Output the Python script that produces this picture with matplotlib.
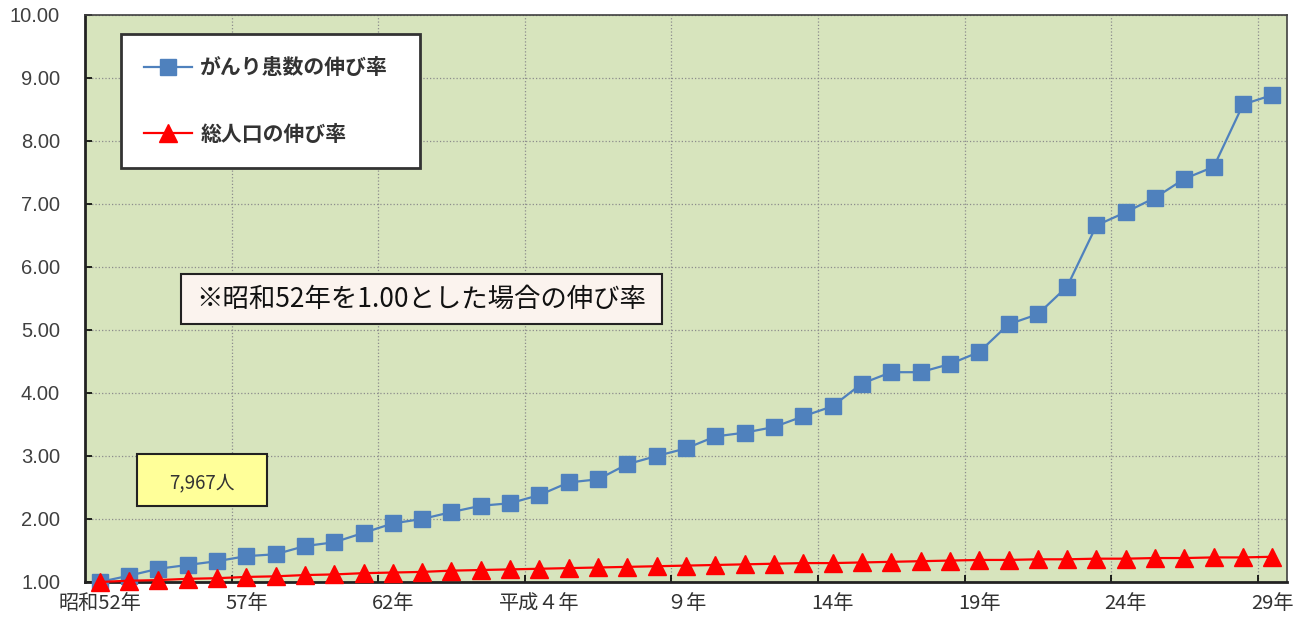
import matplotlib
matplotlib.use('Agg')
import matplotlib.pyplot as plt
from matplotlib.patches import Rectangle
from matplotlib.ticker import FixedLocator

plt.rcParams['font.family'] = ['Noto Sans CJK JP', 'DejaVu Sans']

years = list(range(41))  # 昭和52年 .. 平成29年
tick_pos = [0, 5, 10, 15, 20, 25, 30, 35, 40]
tick_labels = ['昭和52年', '57年', '62年', '平成４年', '９年', '14年', '19年', '24年', '29年']

cancer = [1.00, 1.10, 1.21, 1.27, 1.33, 1.41, 1.44, 1.57, 1.63, 1.78,
          1.93, 2.00, 2.11, 2.21, 2.25, 2.38, 2.58, 2.63, 2.87, 3.00,
          3.12, 3.31, 3.37, 3.46, 3.63, 3.79, 4.15, 4.33, 4.33, 4.46,
          4.65, 5.09, 5.25, 5.69, 6.66, 6.87, 7.10, 7.40, 7.59, 8.58,
          8.73]
population = [1.00, 1.02, 1.03, 1.05, 1.06, 1.08, 1.09, 1.11, 1.12, 1.14,
              1.15, 1.16, 1.18, 1.19, 1.20, 1.21, 1.22, 1.23, 1.24, 1.25,
              1.26, 1.27, 1.28, 1.29, 1.30, 1.30, 1.31, 1.32, 1.33, 1.34,
              1.35, 1.35, 1.36, 1.36, 1.37, 1.37, 1.38, 1.38, 1.39, 1.39,
              1.40]

fig = plt.figure(figsize=(12.96, 6.19), dpi=100)
ax = fig.add_axes([0.0656, 0.0598, 0.9275, 0.916])
ax.set_facecolor('#D7E4BD')

ax.plot(years, cancer, color='#4F81BD', lw=1.6, marker='s', ms=11.5,
        mfc='#4F81BD', mec='#4F81BD', label='がんり患数の伸び率', clip_on=False, zorder=3)
ax.plot(years, population, color='#FF0000', lw=1.6, marker='^', ms=12.5,
        mfc='#FF0000', mec='#FF0000', label='総人口の伸び率', clip_on=False, zorder=4)

ax.set_xlim(-0.5, 40.5)
ax.set_ylim(1, 10)
ax.set_yticks(range(1, 11))
ax.set_yticklabels(['%.2f' % v for v in range(1, 11)], family='Liberation Sans',
                   fontsize=14.5, color='#404040')
ax.set_xticks(tick_pos)
ax.set_xticklabels(tick_labels, fontsize=14.5, color='#333333')
ax.xaxis.set_minor_locator(FixedLocator([4.5 + 5 * k for k in range(8)]))
ax.tick_params(axis='x', which='major', length=0, pad=8)
ax.tick_params(axis='x', which='minor', direction='in', length=5, width=1.2, color='black')
ax.tick_params(axis='y', direction='in', length=5, width=1.2, pad=18)

ax.grid(True, axis='y', color='#8C8C8C', ls=':', lw=0.9)
ax.grid(True, axis='x', which='minor', color='#8C8C8C', ls=':', lw=0.9)

for s in ['left', 'bottom']:
    ax.spines[s].set_linewidth(2)
    ax.spines[s].set_color('#222222')
for s in ['top', 'right']:
    ax.spines[s].set_linewidth(1.2)
    ax.spines[s].set_color('#404040')

leg = ax.legend(loc='upper left', bbox_to_anchor=(0.030, 0.7354, 0.2488, 0.2311),
                mode='expand', borderaxespad=0, fancybox=False, framealpha=1,
                edgecolor='#333333', borderpad=1.1, labelspacing=2.2, handlelength=2.3,
                handletextpad=0.4, prop={'size': 15, 'weight': 'bold'})
leg.get_frame().set_linewidth(2)
for t in leg.get_texts():
    t.set_color('#333333')

# note box
ax.add_patch(Rectangle((0.0799, 0.455), 0.4002, 0.0882, transform=ax.transAxes,
                       facecolor='#FBF3EE', edgecolor='#222222', lw=1.5, zorder=5))
ax.text(0.2795, 0.499, '※昭和52年を1.00とした場合の伸び率', transform=ax.transAxes,
        ha='center', va='center', fontsize=19, color='#111111', zorder=6)

# count box
ax.add_patch(Rectangle((0.0433, 0.134), 0.108, 0.0917, transform=ax.transAxes,
                       facecolor='#FFFF99', edgecolor='#222222', lw=1.5, zorder=5))
ax.text(0.0973, 0.1746, '7,967人', transform=ax.transAxes,
        ha='center', va='center', fontsize=13.5, color='#333333', zorder=6)

plt.savefig('out.png', dpi=100)
